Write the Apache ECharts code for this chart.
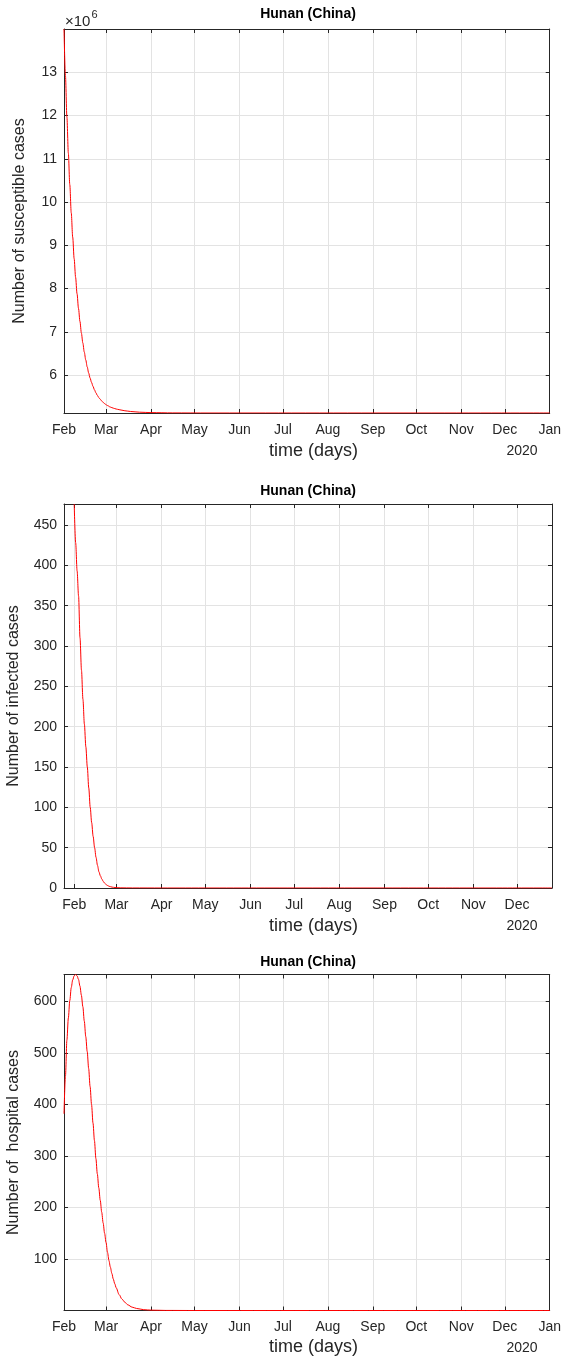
<!DOCTYPE html>
<html>
<head>
<meta charset="utf-8">
<script src="https://cdn.jsdelivr.net/npm/echarts@6/dist/echarts.min.js"></script>
<style>
html,body{margin:0;padding:0;background:#fff;}
#c{width:564px;height:1357px;}
</style>
</head>
<body>
<div id="c"></div>
<script>
// ---------- data ----------
const chartTitle = 'Hunan (China)';
const xAxisName = 'time (days)';
const yearLabel = '2020';
const yAxisNames = ['Number of susceptible cases', 'Number of infected cases', 'Number of  hospital cases'];
const monthNames = ['Jan','Feb','Mar','Apr','May','Jun','Jul','Aug','Sep','Oct','Nov','Dec'];
const startDate = '2020-02-01';

const monthTicksFull = ['2020-02-01','2020-03-01','2020-04-01','2020-05-01','2020-06-01','2020-07-01',
  '2020-08-01','2020-09-01','2020-10-01','2020-11-01','2020-12-01','2021-01-01'];
const monthTicksInfected = ['2020-02-01','2020-03-01','2020-04-01','2020-05-01','2020-06-01','2020-07-01',
  '2020-08-01','2020-09-01','2020-10-01','2020-11-01','2020-12-01'];

// susceptible (millions), days after 2020-02-01
const susceptibleDays = [0,1,2,3,4,5,6,7,8,9,10,11,12,13,14,15,16,17,18,19,20,21,22,23,24,25,26,27,28,29,30,32,34,36,38,42,46,52,60,75,100,335];
const susceptibleMillions = [14.0,12.92,11.97,11.13,10.40,9.75,9.19,8.69,8.26,7.88,7.54,7.24,6.97,6.74,6.53,6.35,6.19,6.05,5.93,5.83,5.74,5.66,5.59,5.53,5.48,5.44,5.40,5.37,5.34,5.315,5.295,5.26,5.235,5.215,5.20,5.175,5.158,5.142,5.132,5.125,5.123,5.123];

// infected
const infectedDays = [0,1,2,3,4,5,6,7,8,9,10,11,12,13,14,15,16,17,18,19,20,21,22,23,24,26,28,32,40,60,328];
const infected = [476,428,393,362,310,270,234,203,175,150,124,100,81,64,50,38,28,20,15,11,8,5.8,4.2,3.0,2.1,1.1,0.6,0.2,0.05,0,0];

// hospital
const hospitalDays = [0,1,2,3,4,5,6,7,8,9,10,11,12,13,14,15,16,17,18,19,20,21,22,23,24,25,26,27,28,29,30,31,32,33,34,35,36,38,40,42,44,47,50,55,60,70,90,335];
const hospital = [382,455,525,568,602,627,642,650,652.5,650,643,630,612,590,562,532,503,470,435,400,364,330,295,265,238,214,191,170,150,132,113,97,84,72,61,52,44,31,22,16,11,6.5,4,1.6,0.7,0.15,0,0];

const yTicksSusceptible = [6,7,8,9,10,11,12,13];
const yTicksInfected = [0,50,100,150,200,250,300,350,400,450];
const yTicksHospital = [100,200,300,400,500,600];

// ---------- helpers ----------
function ts(s){ const p = s.split('-').map(Number); return Date.UTC(p[0], p[1]-1, p[2]); }
const DAY = 86400000;
const t0 = ts(startDate);
function pts(days, vals){ return days.map((d,i)=>[t0 + d*DAY, vals[i]]); }

const FONT = '"Liberation Sans", Arial, Helvetica, sans-serif';
const AX = '#262626';
const GRIDC = '#e3e3e3';

function xAx(gi, min, max, ticks, main){
  const tv = ticks.map(ts);
  return {
    type:'value', gridIndex:gi, min:ts(min), max:ts(max), position: main?'bottom':'top',
    axisLine:{show:true, onZero:false, lineStyle:{color:AX, width:1}},
    axisTick:{show:true, inside:true, length:4, customValues:tv, lineStyle:{color:AX}},
    axisLabel:{show:main, customValues:tv, formatter:(v)=>monthNames[new Date(v).getUTCMonth()],
      color:AX, fontSize:14, fontFamily:FONT, margin:10, hideOverlap:false},
    splitLine:{show:main, lineStyle:{color:GRIDC, width:1}},
    axisPointer:{show:false}
  };
}
function yAx(gi, min, max, ticks, main){
  return {
    type:'value', gridIndex:gi, min:min, max:max, position: main?'left':'right',
    axisLine:{show:true, onZero:false, lineStyle:{color:AX, width:1}},
    axisTick:{show:true, inside:true, length:4, customValues:ticks, lineStyle:{color:AX}},
    axisLabel:{show:main, customValues:ticks, color:AX, fontSize:14, fontFamily:FONT, margin:7},
    splitLine:{show:main, lineStyle:{color:GRIDC, width:1}},
    axisPointer:{show:false}
  };
}
function txt(x, y, text, size, opts){
  opts = opts || {};
  return {type:'text', x:x, y:y, rotation: opts.rot || 0, z:10,
    style:{text:text, fontSize:size, fontFamily:FONT, fontWeight: opts.bold?'bold':'normal',
      fill: opts.color || AX, align: opts.align || 'center', verticalAlign:'middle'}};
}

const chart = echarts.init(document.getElementById('c'), null, {renderer:'canvas'});
const line = (xi, data) => ({type:'line', xAxisIndex:xi, yAxisIndex:xi, data:data, showSymbol:false,
  smooth:0.3, smoothMonotone:'x', clip:true, lineStyle:{color:'#ff0000', width:1}, itemStyle:{color:'#ff0000'}, z:5});

chart.setOption({
  animation:false,
  backgroundColor:'#ffffff',
  grid:[
    {left:64, top:29, width:487, height:384},
    {left:64, top:504, width:488, height:384},
    {left:64, top:974.5, width:487.5, height:336}
  ],
  xAxis:[
    xAx(0,'2020-02-01','2021-01-01',monthTicksFull,true),
    xAx(1,'2020-01-25','2020-12-25',monthTicksInfected,true),
    xAx(2,'2020-02-01','2021-01-01',monthTicksFull,true),
    xAx(0,'2020-02-01','2021-01-01',monthTicksFull,false),
    xAx(1,'2020-01-25','2020-12-25',monthTicksInfected,false),
    xAx(2,'2020-02-01','2021-01-01',monthTicksFull,false)
  ],
  yAxis:[
    yAx(0,5.123,14.0,yTicksSusceptible,true),
    yAx(1,0,476,yTicksInfected,true),
    yAx(2,0,652.5,yTicksHospital,true),
    yAx(0,5.123,14.0,yTicksSusceptible,false),
    yAx(1,0,476,yTicksInfected,false),
    yAx(2,0,652.5,yTicksHospital,false)
  ],
  series:[
    line(0, pts(susceptibleDays, susceptibleMillions)),
    line(1, pts(infectedDays, infected)),
    line(2, pts(hospitalDays, hospital))
  ],
  graphic:[
    txt(308, 14, chartTitle, 14, {bold:true, color:'#000'}),
    txt(308, 491, chartTitle, 14, {bold:true, color:'#000'}),
    txt(308, 962, chartTitle, 14, {bold:true, color:'#000'}),
    txt(65, 22, '×10', 15, {align:'left'}),
    txt(91.5, 15, '6', 11, {align:'left'}),
    txt(20, 221, yAxisNames[0], 16, {rot:Math.PI/2}),
    txt(13.5, 696, yAxisNames[1], 16, {rot:Math.PI/2}),
    txt(13.5, 1142.5, yAxisNames[2], 16, {rot:Math.PI/2}),
    txt(313.5, 451.5, xAxisName, 18),
    txt(313.5, 926, xAxisName, 18),
    txt(313.5, 1347.5, xAxisName, 18),
    txt(522, 450.7, yearLabel, 14),
    txt(522, 926.3, yearLabel, 14),
    txt(522, 1348.3, yearLabel, 14)
  ]
});
</script>
</body>
</html>
